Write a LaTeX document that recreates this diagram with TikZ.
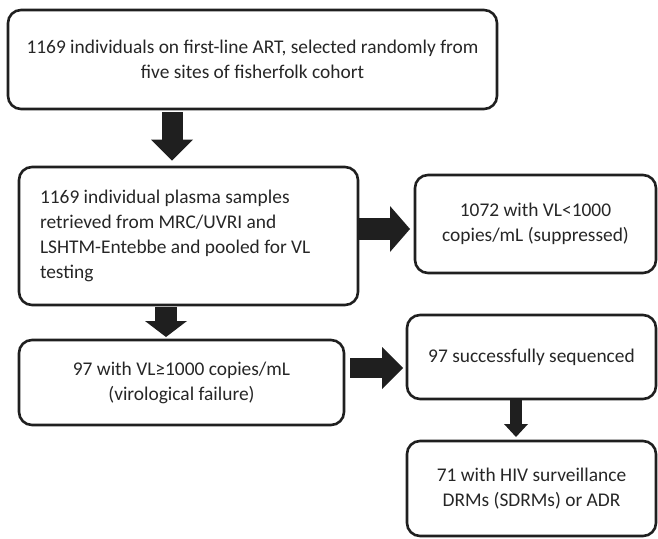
\documentclass[tikz,border=0pt]{standalone}
\usepackage{fontspec}
\setmainfont{Carlito}
\usetikzlibrary{arrows.meta}

\begin{document}
\begin{tikzpicture}[x=1pt, y=-1pt,
  box/.style={draw=black!88, line width=2.6pt, rounded corners=13pt, inner sep=0pt,
    align=center, text=black!85, font=\fontsize{19.4}{25}\selectfont},
  fat/.style n args={3}{draw=black!88, line width=#1pt,
    -{Triangle[width=#2pt, length=#3pt, line width=0pt]}}]
\useasboundingbox (0,0) rectangle (658,538);
\node[box, minimum width=489pt, minimum height=99pt] (cohort) at (252.5,59.5)
  {1169 individuals on first-line ART, selected randomly from\\five sites of fisherfolk cohort};
\node[box, minimum width=339pt, minimum height=138pt, text width=297pt, align=flush left] (plasma) at (188.5,236)
  {1169 individual plasma samples\\retrieved from MRC/UVRI and\\LSHTM-Entebbe and pooled for VL\\testing};
\node[box, minimum width=241pt, minimum height=98pt] (supp) at (535.5,224)
  {1072 with VL<1000\\copies/mL (suppressed)};
\node[box, minimum width=325pt, minimum height=85pt] (fail) at (181.5,382.5)
  {97 with VL≥1000 copies/mL\\(virological failure)};
\node[box, minimum width=249pt, minimum height=84pt] (seq) at (531.5,357)
  {97 successfully sequenced};
\node[box, minimum width=249pt, minimum height=95pt] (drm) at (531.5,488.5)
  {71 with HIV surveillance\\DRMs (SDRMs) or ADR};
% arrows
\draw[fat={21}{42}{21}, shorten <=2pt, shorten >=5pt] ([xshift=-80.5pt]cohort.south) -- ([xshift=-16.5pt]plasma.north);
\draw[fat={22}{46}{20}, shorten >=3.7pt] ([yshift=7pt]plasma.east) -- ([yshift=-5pt]supp.west);
\draw[fat={22}{42}{16}, shorten <=1pt, shorten >=1.7pt] ([xshift=-22.5pt]plasma.south) -- ([xshift=-15.5pt]fail.north);
\draw[fat={20}{42}{21}, shorten <=4.7pt, shorten >=2.7pt] ([yshift=14.5pt]fail.east) -- ([yshift=-11pt]seq.west);
\draw[fat={12}{24}{13}, shorten >=2.7pt] ([xshift=-15.5pt]seq.south) -- ([xshift=-15.5pt]drm.north);
\end{tikzpicture}
\end{document}
